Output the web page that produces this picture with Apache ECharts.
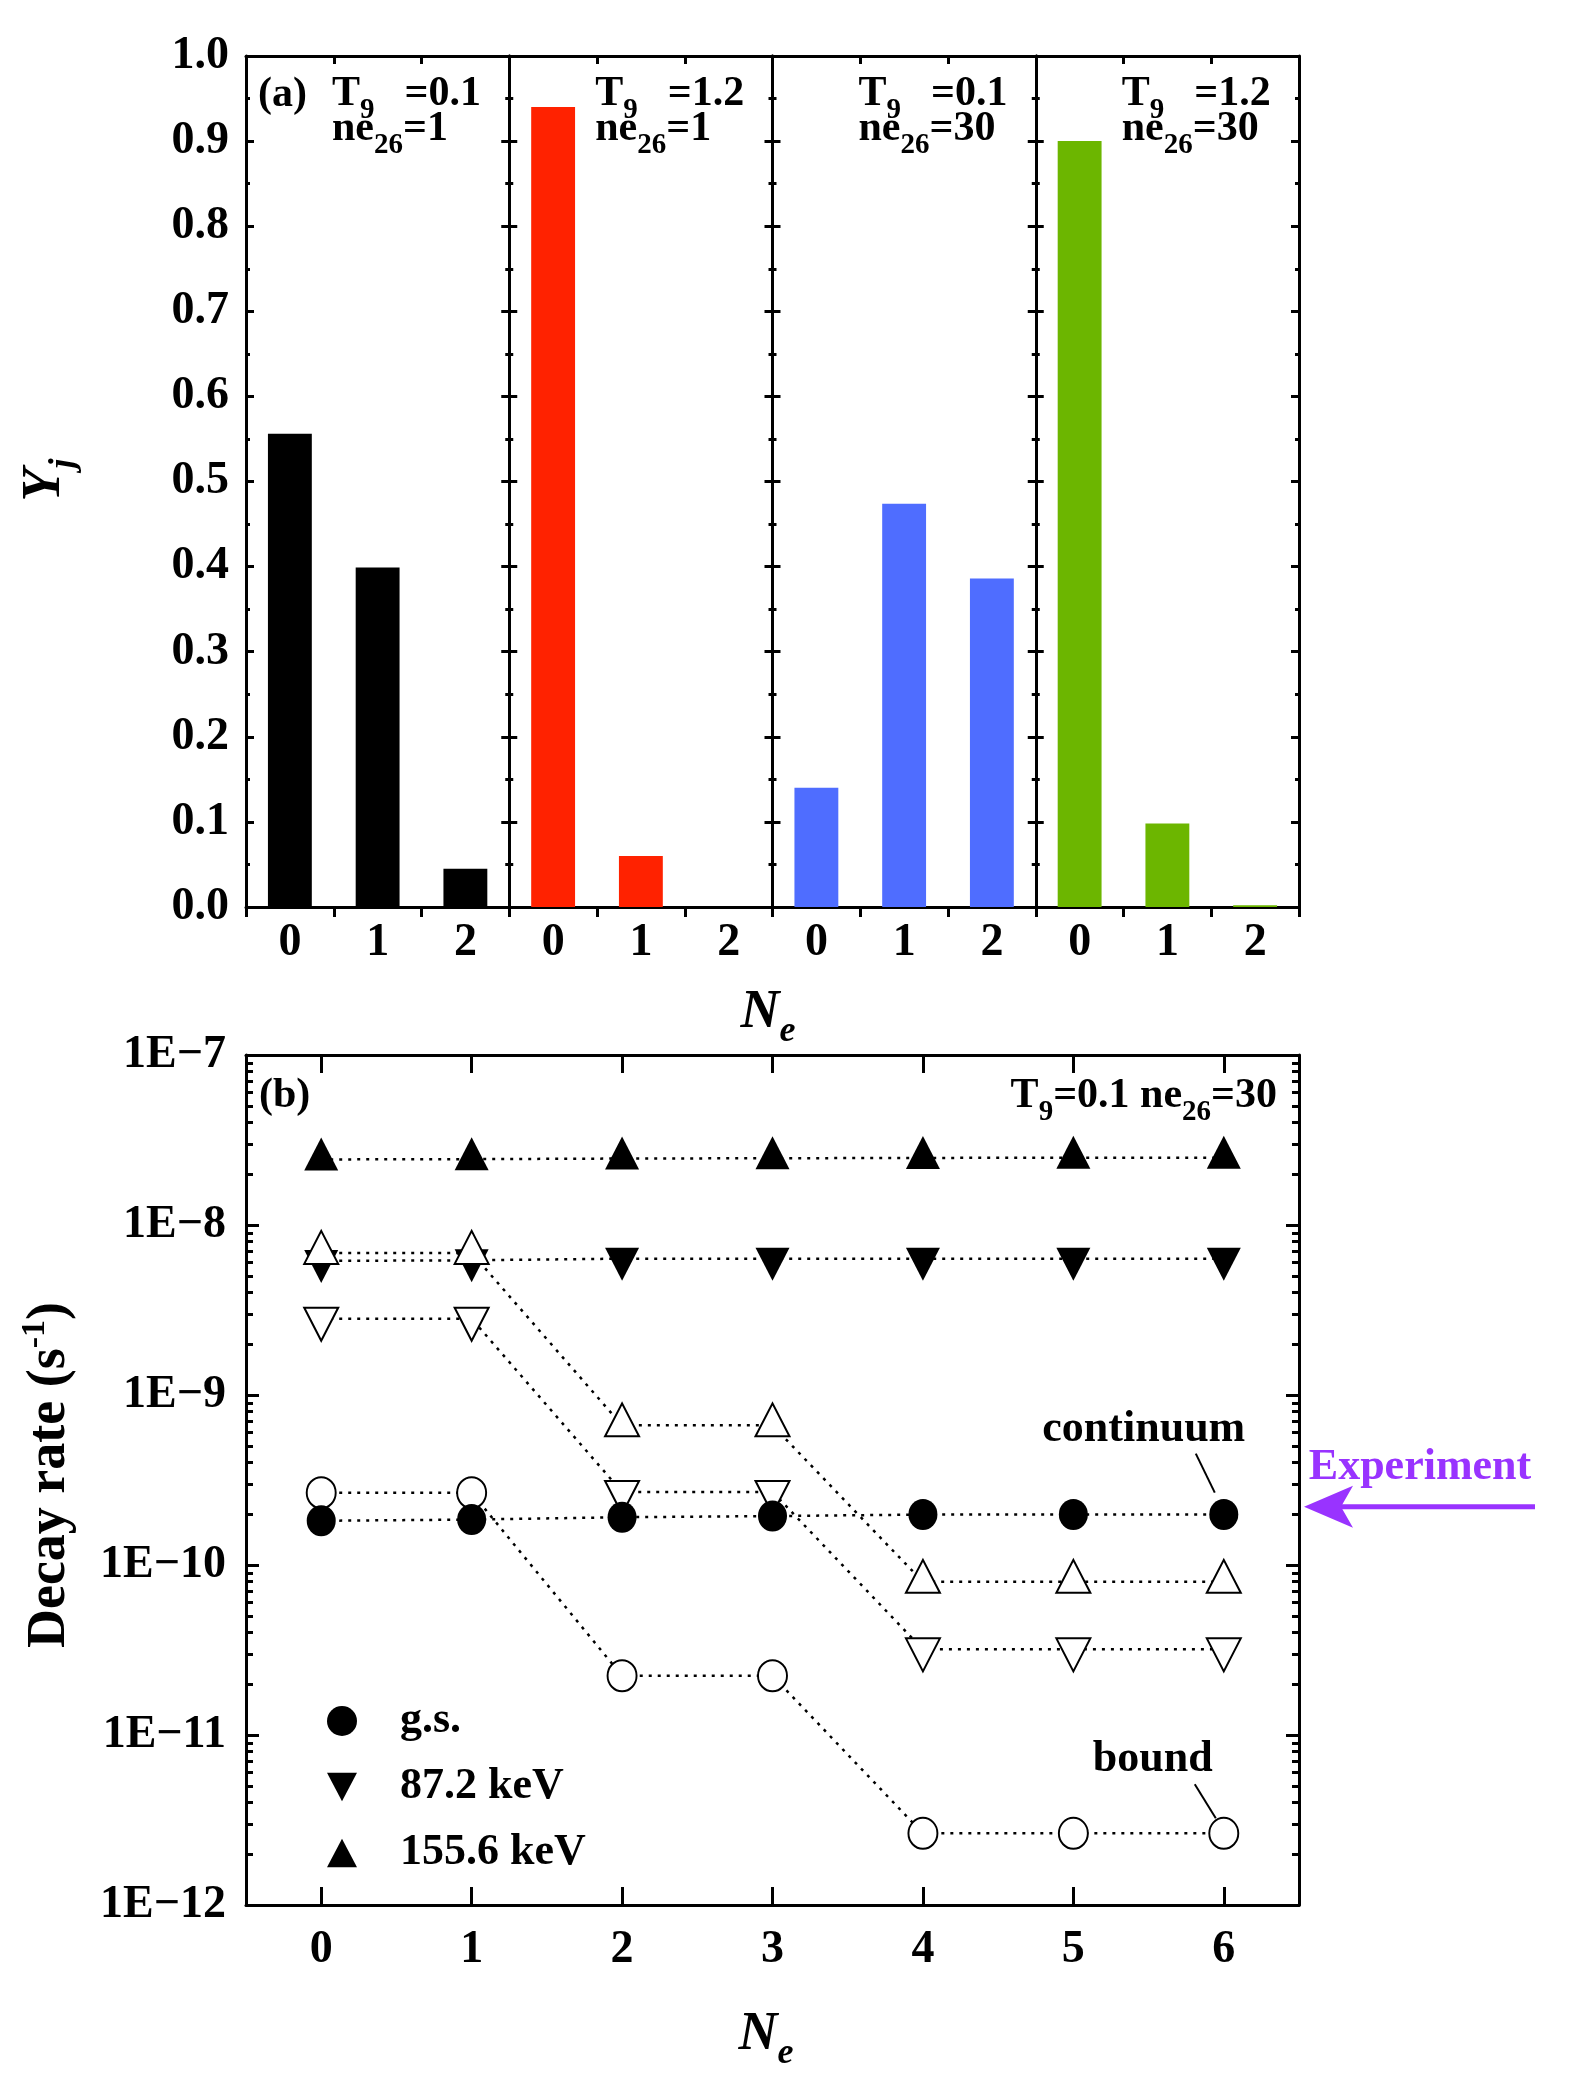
<!DOCTYPE html>
<html>
<head>
<meta charset="utf-8">
<script src="https://cdn.jsdelivr.net/npm/echarts@6.0.0/dist/echarts.min.js"></script>
<style>
html, body { margin: 0; padding: 0; background: #fff; }
#chart { width: 1578px; height: 2076px; }
</style>
</head>
<body>
<div id="chart"></div>
<script>
// ---- panel (a): Y_j for each number of bound electrons ----
const neTop = ['0', '1', '2'];
const yjT01Ne1 = [0.556, 0.399, 0.045];
const yjT12Ne1 = [0.940, 0.060, 0.0001];
const yjT01Ne30 = [0.140, 0.474, 0.386];
const yjT12Ne30 = [0.900, 0.098, 0.002];
const panelT9 = ['0.1', '1.2', '0.1', '1.2'];
const panelNe26 = ['1', '1', '30', '30'];
const panelColors = ['#000000', '#ff2200', '#4f6dff', '#6cb600'];

// ---- panel (b): decay rates (s^-1), T9=0.1 ne26=30 ----
const neBottom = ['0', '1', '2', '3', '4', '5', '6'];
const gsCont = [1.82e-10, 1.85e-10, 1.91e-10, 1.94e-10, 1.98e-10, 1.98e-10, 1.98e-10];
const gsBound = [2.66e-10, 2.66e-10, 2.23e-11, 2.23e-11, 2.64e-12, 2.64e-12, 2.64e-12];
const e872Cont = [6.15e-9, 6.2e-9, 6.34e-9, 6.34e-9, 6.34e-9, 6.34e-9, 6.34e-9];
const e872Bound = [2.81e-9, 2.81e-9, 2.69e-10, 2.69e-10, 3.19e-11, 3.19e-11, 3.19e-11];
const e1556Cont = [2.43e-8, 2.44e-8, 2.46e-8, 2.47e-8, 2.48e-8, 2.49e-8, 2.49e-8];
const e1556Bound = [6.85e-9, 6.85e-9, 6.63e-10, 6.63e-10, 7.96e-11, 7.96e-11, 7.96e-11];
const experimentRate = 2.2e-10;

const FONT = 'Liberation Serif';
const PURPLE = '#9933ff';
const chart = echarts.init(document.getElementById('chart'));

// layout (px)
const topY = 56, topH = 851, left0 = 246, panelW = 263.25;
const botY = 1055, botH = 850, botW = 1053;

const black = { color: '#000', width: 3 };
const tickFont = { fontFamily: FONT, fontWeight: 'bold', fontSize: 46, color: '#000' };
const noteFont = 'bold 44px "Liberation Serif"';

const panels = [yjT01Ne1, yjT12Ne1, yjT01Ne30, yjT12Ne30];
const grids = [], xAxes = [], yAxes = [], series = [];

panels.forEach((vals, i) => {
    grids.push({ left: left0 + i * panelW, top: topY, width: panelW, height: topH, containLabel: false, outerBoundsMode: 'none' });
    xAxes.push({
        gridIndex: i, type: 'category', data: neTop, position: 'bottom',
        axisLine: { onZero: false, lineStyle: black },
        axisTick: { show: true, inside: false, length: 10, lineStyle: black },
        axisLabel: Object.assign({ margin: 13, interval: 0 }, tickFont),
        splitLine: { show: false }
    });
    xAxes.push({
        gridIndex: i, type: 'category', data: neTop, position: 'top',
        axisLine: { onZero: false, lineStyle: black },
        axisTick: { show: true, inside: true, length: 8, lineStyle: black },
        axisLabel: { show: false }, splitLine: { show: false }
    });
    [0, 1].forEach(side => {
        yAxes.push({
            gridIndex: i, type: 'value', min: 0, max: 1, interval: 0.1,
            position: side ? 'right' : 'left',
            axisLine: { show: true, onZero: false, lineStyle: black },
            axisTick: { show: true, inside: true, length: 8, lineStyle: black },
            minorTick: { show: true, splitNumber: 2, length: 4, lineStyle: black },
            axisLabel: (i === 0 && side === 0)
                ? Object.assign({ margin: 17, formatter: v => v.toFixed(1) }, tickFont)
                : { show: false },
            splitLine: { show: false }
        });
    });
    series.push({
        type: 'bar', xAxisIndex: 2 * i, yAxisIndex: 2 * i, data: vals,
        barWidth: '50%', itemStyle: { color: panelColors[i] }, silent: true
    });
});

// bottom grid
grids.push({ left: left0, top: botY, width: botW, height: botH, containLabel: false, outerBoundsMode: 'none' });
['bottom', 'top'].forEach(pos => {
    xAxes.push({
        gridIndex: 4, type: 'category', data: neBottom, position: pos,
        axisLine: { onZero: false, lineStyle: black },
        axisTick: { show: true, inside: true, alignWithLabel: true, interval: 0, length: 18, lineStyle: black },
        axisLabel: pos === 'bottom' ? Object.assign({ margin: 22, interval: 0 }, tickFont) : { show: false },
        splitLine: { show: false }
    });
});
['left', 'right'].forEach(pos => {
    yAxes.push({
        gridIndex: 4, type: 'log', logBase: 10, min: 1e-12, max: 1e-7, position: pos,
        axisLine: { show: true, onZero: false, lineStyle: black },
        axisTick: { show: true, inside: true, length: 13, lineStyle: black },
        axisLabel: pos === 'left'
            ? Object.assign({ margin: 20, formatter: v => '1E\u2212' + (-Math.round(Math.log10(v))) }, tickFont)
            : { show: false },
        splitLine: { show: false }
    });
});
// log minor ticks (2..9 of each decade) on a hidden log10 value axis
const minorLogs = [];
for (let e = -12; e < -7; e++) for (let k = 2; k <= 9; k++) minorLogs.push(e + Math.log10(k));
['left', 'right'].forEach(pos => {
    yAxes.push({
        gridIndex: 4, type: 'value', min: -12, max: -7, position: pos,
        axisLine: { show: false, onZero: false },
        axisTick: { show: true, inside: true, length: 7, customValues: minorLogs, lineStyle: black },
        axisLabel: { show: false }, splitLine: { show: false }
    });
});

function rateSeries(name, data, up, filled, isCircle) {
    return {
        type: 'line', name: name, data: data, xAxisIndex: 8, yAxisIndex: 8,
        symbol: isCircle ? 'circle' : 'triangle',
        symbolSize: isCircle ? [29, 31] : [34, 33],
        symbolRotate: (!isCircle && !up) ? 180 : 0,
        symbolOffset: isCircle ? [0, 0] : (up ? [0, -5.5] : [0, 5.5]),
        showSymbol: true, silent: true,
        lineStyle: { color: '#000', width: 2.5, type: [3, 6] },
        itemStyle: { color: filled ? '#000' : '#fff', borderColor: '#000', borderWidth: filled ? 0 : 2 },
        emphasis: { disabled: true }
    };
}
series.push(rateSeries('155.6 keV', e1556Cont, true, true, false));
series.push(rateSeries('87.2 keV', e872Cont, false, true, false));
series.push(rateSeries('155.6 keV bound', e1556Bound, true, false, false));
series.push(rateSeries('87.2 keV bound', e872Bound, false, false, false));
series.push(rateSeries('g.s. bound', gsBound, false, false, true));
series.push(rateSeries('g.s.', gsCont, false, true, true));
const idxGsBound = series.length - 2, idxGsCont = series.length - 1;

chart.setOption({
    animation: false,
    backgroundColor: '#fff',
    grid: grids, xAxis: xAxes, yAxis: yAxes, series: series,
    legend: {
        orient: 'vertical', left: 322, top: 1694, itemWidth: 30, itemHeight: 30, itemGap: 22,
        selectedMode: false, symbolRotate: 0,
        data: [
            { name: 'g.s.', icon: 'circle' },
            { name: '87.2 keV', icon: 'path://M0,0L20,0L10,19Z' },
            { name: '155.6 keV', icon: 'path://M10,0L20,19L0,19Z' }
        ],
        textStyle: { fontFamily: FONT, fontWeight: 'bold', fontSize: 44, color: '#000', padding: [0, 0, 0, 38], lineHeight: 40 }
    }
});

// ---- annotations ----
const rt = { fontFamily: FONT, fontWeight: 'bold', fontSize: 42, lineHeight: 35, fill: '#000' };
const rtGap = Object.assign({}, rt, { padding: [0, 0, 0, 30] });
const rs = { fontFamily: FONT, fontWeight: 'bold', fontSize: 29, lineHeight: 35, padding: [33, 0, 0, 0], fill: '#000' };
const big = { fontFamily: FONT, fontWeight: 'bold', fontSize: 54, lineHeight: 60, fill: '#000' };
const bigIt = Object.assign({}, big, { fontStyle: 'italic' });
const subIt = { fontFamily: FONT, fontWeight: 'bold', fontStyle: 'italic', fontSize: 36, lineHeight: 60, padding: [38, 0, 0, 0], fill: '#000' };
const sup = { fontFamily: FONT, fontWeight: 'bold', fontSize: 34, lineHeight: 60, padding: [0, 0, 30, 0], fill: '#000' };

const graphics = [];
panels.forEach((vals, i) => {
    graphics.push({
        type: 'text', x: left0 + i * panelW + 86, y: 77,
        style: {
            text: '{t|T}{s|9}{g|=' + panelT9[i] + '}\n{t|ne}{s|26}{t|=' + panelNe26[i] + '}',
            rich: { t: rt, s: rs, g: rtGap }, align: 'left', verticalAlign: 'top'
        }
    });
});
graphics.push({ type: 'text', x: 258, y: 95, style: { text: '(a)', font: 'bold 42px "Liberation Serif"', fill: '#000', align: 'left', verticalAlign: 'middle' } });
graphics.push({ type: 'text', x: 259, y: 1096, style: { text: '(b)', font: 'bold 42px "Liberation Serif"', fill: '#000', align: 'left', verticalAlign: 'middle' } });
graphics.push({
    type: 'text', x: 1277, y: 1096,
    style: { text: '{t|T}{s|9}{t|=0.1 ne}{s|26}{t|=30}', rich: { t: rt, s: rs }, align: 'right', verticalAlign: 'middle' }
});

// axis titles
graphics.push({ type: 'text', x: 45, y: 480, rotation: Math.PI / 2,
    style: { text: '{y|Y}{j|j}', rich: { y: bigIt, j: subIt }, align: 'center', verticalAlign: 'middle' } });
graphics.push({ type: 'text', x: 50, y: 1475, rotation: Math.PI / 2,
    style: { text: '{t|Decay rate (s}{p|-1}{t|)}', rich: { t: big, p: sup }, align: 'center', verticalAlign: 'middle' } });
graphics.push({ type: 'text', x: 768, y: 1013,
    style: { text: '{n|N}{e|e}', rich: { n: bigIt, e: subIt }, align: 'center', verticalAlign: 'middle' } });
graphics.push({ type: 'text', x: 766, y: 2035,
    style: { text: '{n|N}{e|e}', rich: { n: bigIt, e: subIt }, align: 'center', verticalAlign: 'middle' } });

// continuum / bound labels anchored on the last points
const pc = chart.convertToPixel({ seriesIndex: idxGsCont }, [6, gsCont[6]]);
const pb = chart.convertToPixel({ seriesIndex: idxGsBound }, [6, gsBound[6]]);
graphics.push({ type: 'text', x: pc[0] - 80, y: pc[1] - 85,
    style: { text: 'continuum', font: noteFont, fill: '#000', align: 'center', verticalAlign: 'middle' } });
graphics.push({ type: 'line', shape: { x1: pc[0] - 28, y1: pc[1] - 61, x2: pc[0] - 9, y2: pc[1] - 22 }, style: { stroke: '#000', lineWidth: 2 } });
graphics.push({ type: 'text', x: pb[0] - 71, y: pb[1] - 74,
    style: { text: 'bound', font: noteFont, fill: '#000', align: 'center', verticalAlign: 'middle' } });
graphics.push({ type: 'line', shape: { x1: pb[0] - 29, y1: pb[1] - 49, x2: pb[0] - 8, y2: pb[1] - 15 }, style: { stroke: '#000', lineWidth: 2 } });

// experimental rate arrow
const ye = chart.convertToPixel({ yAxisIndex: 8 }, experimentRate);
const ax = left0 + botW + 5;
graphics.push({ type: 'line', shape: { x1: ax + 36, y1: ye, x2: ax + 231, y2: ye }, style: { stroke: PURPLE, lineWidth: 5 } });
graphics.push({ type: 'polygon', shape: { points: [[ax, ye], [ax + 49, ye - 21], [ax + 37, ye], [ax + 49, ye + 21]] }, style: { fill: PURPLE } });
graphics.push({ type: 'text', x: ax + 116, y: ye - 39,
    style: { text: 'Experiment', font: noteFont, fill: PURPLE, align: 'center', verticalAlign: 'middle' } });

chart.setOption({ graphic: graphics });
</script>
</body>
</html>
